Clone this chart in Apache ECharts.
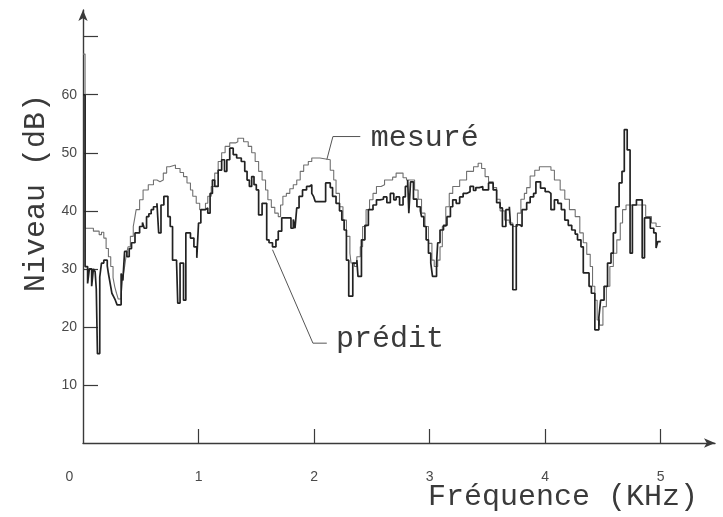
<!DOCTYPE html>
<html><head><meta charset="utf-8">
<script src="https://cdn.jsdelivr.net/npm/echarts@6/dist/echarts.min.js"></script>
<style>html,body{margin:0;padding:0;background:#fff}#c{width:723px;height:517px}</style>
</head><body><div id="c"></div>
<script>
// Frequency (kHz) and level (dB) pairs; step bins start at the frequency
const measured = [
[0,67],[0.018,37],[0.09,36.5],[0.14,35.9],[0.16,36.3],[0.18,35.3],[0.2,33.5],[0.22,32.1],[0.24,30.4],[0.26,28.5],
[0.275,26.9],[0.29,25.8],[0.305,24.8],[0.33,25.5],[0.345,28.5],[0.36,30.4],[0.375,32.5],[0.39,33.8],[0.41,35.6],[0.435,37.3],
[0.45,39],[0.46,40.2],[0.49,41.9],[0.52,43.6],[0.565,44.5],[0.61,45.3],[0.64,45],[0.666,45.3],[0.695,46.5],[0.724,47.6],
[0.75,47.9],[0.8,47.3],[0.84,46.6],[0.87,45.9],[0.9,44.8],[0.93,43.6],[0.95,42.5],[0.98,41.3],[1.01,40.2],[1.06,41.3],
[1.08,42.5],[1.11,44.2],[1.14,46.5],[1.17,48.5],[1.2,50],[1.23,51.1],[1.27,51.7],[1.32,51.9],[1.34,52.5],[1.39,51.9],
[1.43,51.1],[1.46,50],[1.49,48.5],[1.52,46.8],[1.55,45.3],[1.58,43.6],[1.6,41.9],[1.63,40.6],[1.66,39.6],[1.69,39],
[1.71,41],[1.73,42.5],[1.76,43],[1.79,43.8],[1.82,44.5],[1.85,45.3],[1.88,46.8],[1.91,47.9],[1.95,48.5],[1.98,49.1],
[2.05,48.8],[2.14,47],[2.17,45.3],[2.19,43],[2.22,40.7],[2.25,38.4],[2.28,35.6],[2.31,32.7],[2.32,31],[2.35,30.4],
[2.37,32.1],[2.4,33.8],[2.42,37.3],[2.45,40.2],[2.48,41.9],[2.51,43],[2.54,44.2],[2.58,44.5],[2.61,45.3],[2.68,45.8],
[2.71,46.5],[2.77,45.7],[2.8,45.3],[2.87,43.6],[2.9,42],[2.93,39.6],[2.96,37.3],[2.99,34.4],[3.02,31.5],[3.04,30.4],
[3.07,31.5],[3.09,33.8],[3.11,37.3],[3.14,40.7],[3.17,43],[3.2,44.2],[3.26,45.3],[3.32,46.8],[3.38,47.6],[3.42,48.2],
[3.45,47.3],[3.48,45.9],[3.51,45],[3.55,44],[3.58,42],[3.61,40],[3.65,38.4],[3.69,37.9],[3.72,37.3],[3.76,39.6],
[3.79,42],[3.82,43],[3.84,44],[3.87,46],[3.91,47],[3.95,47.6],[4.05,47],[4.08,45.3],[4.13,43.6],[4.17,42],
[4.21,40.2],[4.26,39],[4.3,36.2],[4.33,34.5],[4.36,32.5],[4.39,30.4],[4.41,27],[4.43,24.6],[4.45,21.2],[4.47,20.3],
[4.5,23.5],[4.53,27],[4.56,30.4],[4.59,32.7],[4.62,35],[4.65,37.9],[4.67,40.2],[4.7,41],[4.87,39],[4.92,37.9],
[4.96,37.3],[5.0,37.3]
];
const predicted = [
[0,60],[0.018,30.4],[0.04,27.5],[0.055,30],[0.075,27],[0.09,30],[0.105,29.5],[0.115,26.5],[0.125,15.4],[0.145,28.6],
[0.16,31],[0.18,31.5],[0.21,30.5],[0.22,29.2],[0.235,27.5],[0.25,25.8],[0.265,25.2],[0.28,24.6],[0.295,23.8],[0.33,29.2],
[0.345,28],[0.36,33],[0.38,32.1],[0.4,33.5],[0.42,34.5],[0.45,36.2],[0.49,37.3],[0.515,38],[0.53,37],[0.55,39],
[0.57,39.5],[0.59,40.2],[0.61,40.7],[0.64,41.3],[0.655,36.2],[0.675,41],[0.7,42.5],[0.735,39],[0.755,37.3],[0.775,31.5],
[0.81,31],[0.82,24.1],[0.84,31],[0.87,24.6],[0.89,36.2],[0.93,35.3],[0.96,33.8],[0.985,31.9],[1.0,37.9],[1.02,40.2],
[1.06,40.5],[1.08,39.6],[1.1,43],[1.12,45.3],[1.14,44.2],[1.17,47],[1.2,48.8],[1.225,46.8],[1.245,48.8],[1.27,50.8],
[1.3,49.7],[1.33,49.1],[1.37,48.5],[1.4,46.8],[1.42,45.3],[1.44,44.2],[1.46,45.9],[1.48,44.5],[1.5,43.6],[1.52,39.3],
[1.55,41.3],[1.59,35],[1.61,34.5],[1.64,33.8],[1.67,35],[1.69,36.5],[1.72,38.8],[1.8,37],[1.82,38.5],[1.835,37],
[1.85,40.5],[1.87,42.5],[1.9,43.6],[1.935,44.2],[1.96,44.5],[1.98,43],[1.995,42.5],[2.01,41.6],[2.1,44.8],[2.14,44],
[2.16,42.5],[2.19,41.3],[2.22,40],[2.24,38.4],[2.26,36.7],[2.28,31.5],[2.3,25.3],[2.335,31],[2.37,31.5],[2.38,28.7],
[2.41,35],[2.44,37.5],[2.47,40.2],[2.51,41],[2.54,41.9],[2.57,42],[2.6,42.4],[2.63,41.4],[2.66,43],[2.69,41.9],
[2.71,42.4],[2.74,41],[2.77,42.4],[2.79,44.2],[2.81,45.3],[2.82,39.6],[2.835,45],[2.86,42],[2.89,40.7],[2.92,40],
[2.93,39],[2.95,37.3],[2.97,35],[2.99,32.7],[3.01,31],[3.025,28.7],[3.06,31],[3.07,34.5],[3.09,36.7],[3.12,37.5],
[3.15,39],[3.18,40.7],[3.2,41.9],[3.23,41.3],[3.26,42.4],[3.29,43],[3.32,43.3],[3.35,44.2],[3.38,43.5],[3.4,44],
[3.43,44.2],[3.46,43.6],[3.51,44.8],[3.55,43.6],[3.58,41.4],[3.61,40.5],[3.63,37.3],[3.66,40.2],[3.69,40.7],[3.7,37.6],
[3.72,26.4],[3.75,37.6],[3.78,37.3],[3.8,40.2],[3.84,41.4],[3.87,42.4],[3.9,43],[3.92,45],[3.96,43.9],[4.0,43.3],
[4.03,43],[4.05,40.2],[4.08,41.9],[4.11,41.3],[4.14,40.2],[4.17,38.4],[4.2,37.5],[4.23,36.7],[4.26,36],[4.28,35],
[4.31,33.8],[4.33,29.3],[4.38,27],[4.4,25.8],[4.43,19.5],[4.465,21.7],[4.48,24.6],[4.51,27],[4.54,31],[4.57,32.7],
[4.59,36.2],[4.61,40.7],[4.64,44.8],[4.665,46.8],[4.685,54],[4.71,50.5],[4.735,32.7],[4.755,41],[4.79,41.9],[4.84,31.9],
[4.86,38.8],[4.91,37],[4.94,36.2],[4.96,33.6],[4.975,34.7],[5.0,34.7]
];
const freqTickLabels = [0, 1, 2, 3, 4, 5];
const freqTicks = [1, 2, 3, 4, 5];
const levelTickLabels = [10, 20, 30, 40, 50, 60];
const levelTicks = [10, 20, 30, 40, 50, 60, 70];
const xTitle = 'Fréquence (KHz)';
const yTitle = 'Niveau (dB)';
const measName = 'mesuré';
const predName = 'prédit';
// annotation anchors in data space [kHz, dB]: curve point, elbow, end of leader, text anchor
const measLeader = [[2.11, 48.8], [2.163, 52.8], [2.40, 52.8]];
const measText = [2.49, 52.6];
const predLeader = [[1.64, 33.3], [1.99, 17.2], [2.11, 17.2]];
const predText = [2.19, 17.9];

const MONO = '"Liberation Mono", "DejaVu Sans Mono", monospace';
const SANS = '"Liberation Sans", "DejaVu Sans", sans-serif';
const chart = echarts.init(document.getElementById('c'), null, {renderer: 'canvas'});
const axisCol = '#3a3a3a';
const labCol = '#4a4a4a';
chart.setOption({
  backgroundColor: '#ffffff',
  animation: false,
  grid: {left: 83, right: 8, top: 10, bottom: 74, containLabel: false},
  xAxis: {
    type: 'value', min: 0, max: 5.47, interval: 1,
    axisLine: {show: true, lineStyle: {color: axisCol, width: 1.4}, symbol: ['none', 'arrow'], symbolSize: [7, 11]},
    axisTick: {show: true, inside: true, length: 14, customValues: freqTicks, lineStyle: {color: axisCol, width: 1.2}},
    axisLabel: {
      customValues: freqTickLabels, margin: 27, color: labCol, fontFamily: SANS, fontSize: 14,
      formatter: v => v === 0 ? '{z|0}' : String(v),
      rich: {z: {padding: [0, 27, 0, 0], color: labCol, fontFamily: SANS, fontSize: 14}}
    },
    splitLine: {show: false}
  },
  yAxis: {
    type: 'value', min: 0, max: 74.6, interval: 10,
    axisLine: {show: true, lineStyle: {color: axisCol, width: 1.4}, symbol: ['none', 'arrow'], symbolSize: [7, 11]},
    axisTick: {show: true, inside: true, length: 15, customValues: levelTicks, lineStyle: {color: axisCol, width: 1.2}},
    axisLabel: {customValues: levelTickLabels, margin: 6, color: labCol, fontFamily: SANS, fontSize: 14},
    splitLine: {show: false}
  },
  series: [
    {name: measName, type: 'line', step: 'end', data: measured, showSymbol: false, symbol: 'none',
     lineStyle: {color: '#707070', width: 1.1}, z: 2},
    {name: predName, type: 'line', step: 'end', data: predicted, showSymbol: false, symbol: 'none',
     lineStyle: {color: '#222222', width: 1.7}, z: 3}
  ]
});

function px(p) { return chart.convertToPixel({gridIndex: 0}, p); }
const mL = measLeader.map(px), pL = predLeader.map(px);
const mT = px(measText), pT = px(predText);
const titleFont = '30px ' + MONO;
chart.setOption({
  graphic: [
    {type: 'polyline', shape: {points: mL}, style: {stroke: '#555', lineWidth: 1, fill: null}, silent: true},
    {type: 'polyline', shape: {points: pL}, style: {stroke: '#555', lineWidth: 1, fill: null}, silent: true},
    {type: 'text', x: mT[0], y: mT[1], style: {text: measName, font: titleFont, fill: '#3a3a3a', textAlign: 'left', textVerticalAlign: 'middle'}},
    {type: 'text', x: pT[0], y: pT[1], style: {text: predName, font: titleFont, fill: '#3a3a3a', textAlign: 'left', textVerticalAlign: 'middle'}},
    {type: 'text', x: 698, y: 497, style: {text: xTitle, font: titleFont, fill: '#3a3a3a', textAlign: 'right', textVerticalAlign: 'middle'}},
    {type: 'text', x: 36, y: 193, rotation: Math.PI / 2, style: {text: yTitle, font: titleFont, fill: '#3a3a3a', textAlign: 'center', textVerticalAlign: 'middle'}}
  ]
});
</script>
</body></html>
